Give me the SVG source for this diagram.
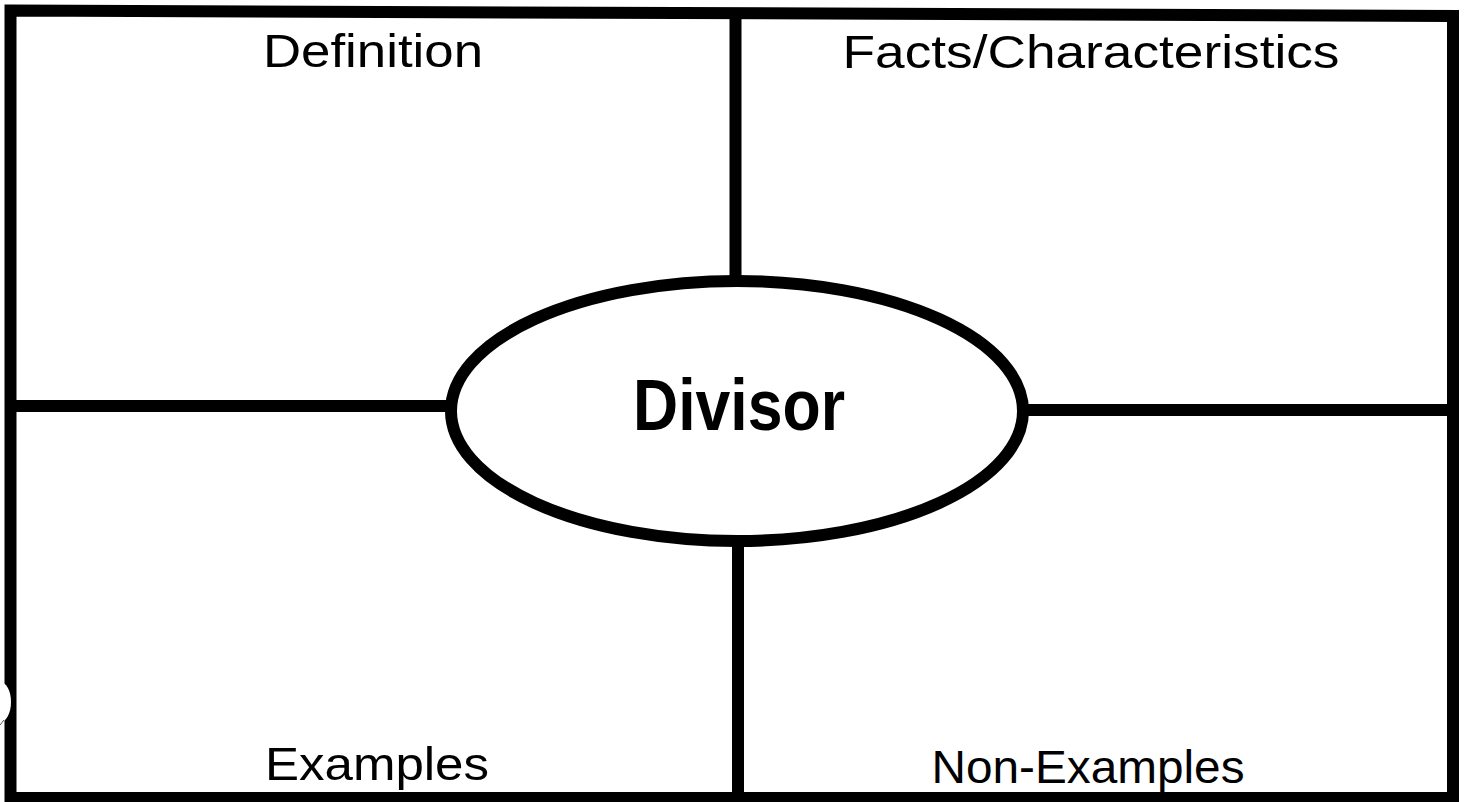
<svg xmlns="http://www.w3.org/2000/svg" width="1467" height="802" viewBox="0 0 1467 802">
<style>
.ln{stroke:#000;stroke-width:12;fill:none;stroke-linecap:butt;stroke-linejoin:miter}
.lbl{font-family:"Liberation Sans",Arial,sans-serif;font-size:47px;fill:#000;text-anchor:middle}
.ttl{font-family:"Liberation Sans",Arial,sans-serif;font-size:72px;font-weight:bold;fill:#000;text-anchor:middle}
</style>
<rect width="1467" height="802" fill="#fff"/>
<g id="frame">
<path class="ln" d="M10.5,10.5 L1453,16 L1453,798 L10.5,798 Z"/>
<ellipse cx="0" cy="702" rx="11" ry="20" fill="#fff"/>
<line x1="0" y1="725" x2="4" y2="720" stroke="#555" stroke-width="1"/>
</g>
<g id="connectors">
<line class="ln" x1="735.5" y1="13" x2="735.5" y2="282"/>
<line class="ln" x1="738" y1="540" x2="738" y2="798"/>
<line class="ln" x1="10" y1="406" x2="452" y2="406"/>
<line class="ln" x1="1022" y1="410" x2="1453" y2="410"/>
</g>
<g id="definition">
<text class="lbl" x="373" y="67" textLength="220" lengthAdjust="spacingAndGlyphs">Definition</text>
</g>
<g id="facts">
<text class="lbl" x="1091" y="68" textLength="497" lengthAdjust="spacingAndGlyphs">Facts/Characteristics</text>
</g>
<g id="examples">
<text class="lbl" x="377" y="780" textLength="224" lengthAdjust="spacingAndGlyphs">Examples</text>
</g>
<g id="nonexamples">
<text class="lbl" x="1088" y="783" textLength="313" lengthAdjust="spacingAndGlyphs">Non-Examples</text>
</g>
<g id="divisor">
<ellipse class="ln" cx="737" cy="411" rx="286" ry="130" fill="#fff"/>
<text class="ttl" x="739" y="430" textLength="212" lengthAdjust="spacingAndGlyphs">Divisor</text>
</g>
</svg>
